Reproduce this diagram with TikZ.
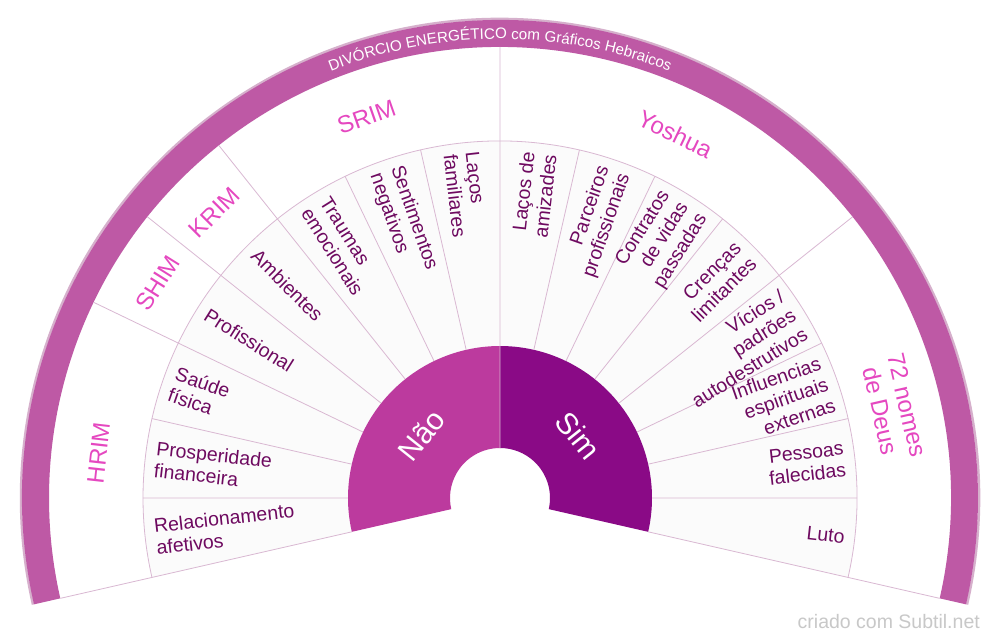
\documentclass[tikz,border=0pt]{standalone}
\usepackage{fontspec}
\setmainfont{Liberation Sans}
\usetikzlibrary{decorations.text}

\definecolor{naofill}{HTML}{BC3A9E}
\definecolor{simfill}{HTML}{8A0A86}
\definecolor{bandfill}{HTML}{BE59A5}
\definecolor{bandrim}{HTML}{D6B0CC}
\definecolor{divline}{HTML}{D9B8D2}
\definecolor{cattext}{HTML}{E548C0}
\definecolor{segtext}{HTML}{6E0A60}
\definecolor{segfill}{HTML}{FBFBFB}
\definecolor{marktext}{HTML}{C8C8C8}

\begin{document}
\begin{tikzpicture}[
        x=1pt, y=1pt,
        segleft/.style={anchor=west, align=left, text=segtext, inner sep=2pt, font=\fontsize{19.5}{22}\selectfont},
        segright/.style={anchor=east, align=right, text=segtext, inner sep=2pt, font=\fontsize{19.5}{22}\selectfont},
        catlabel/.style={align=center, text=cattext, font=\fontsize{24}{27}\selectfont},
        answer/.style={text=white, font=\fontsize{30}{30}\selectfont},
        divider/.style={draw=divline, line width=0.8pt}
    ]
        % Page
        \path[fill=white, use as bounding box] (-500,-145) rectangle (500,498);

        % Outer band
        \draw[bandrim, line width=2.5pt] (-12.857:479) arc[start angle=-12.857, end angle=192.857, radius=479];
        \fill[bandfill] (-12.857:451) arc[start angle=-12.857, end angle=192.857, radius=451]
            -- (192.857:478) arc[start angle=192.857, end angle=-12.857, radius=478] -- cycle;
        \path[decorate, decoration={text along path, text align=center,
            text={|\fontsize{15.2}{16}\selectfont\color{white}|DIVÓRCIO ENERGÉTICO com Gráficos Hebraicos}}]
            (114:459) arc[start angle=114, end angle=66, radius=459];

        % Rings
        \fill[segfill] (-12.857:152) arc[start angle=-12.857, end angle=192.857, radius=152]
            -- (192.857:357) arc[start angle=192.857, end angle=-12.857, radius=357] -- cycle;
        \fill[naofill] (90:50) arc[start angle=90, end angle=192.857, radius=50]
            -- (192.857:152) arc[start angle=192.857, end angle=90, radius=152] -- cycle;
        \fill[simfill] (-12.857:50) arc[start angle=-12.857, end angle=90, radius=50]
            -- (90:152) arc[start angle=90, end angle=-12.857, radius=152] -- cycle;

        % Dividers
        \draw[divider] (-12.857:357) arc[start angle=-12.857, end angle=192.857, radius=357];
        \draw[divider] (192.857:152) -- (192.857:451) (154.286:152) -- (154.286:451)
            (141.429:152) -- (141.429:451) (128.571:152) -- (128.571:451)
            (90:50) -- (90:451) (38.571:152) -- (38.571:451) (-12.857:152) -- (-12.857:451);
        \draw[divider] (180:152) -- (180:357) (167.143:152) -- (167.143:357)
            (115.714:152) -- (115.714:357) (102.857:152) -- (102.857:357)
            (77.143:152) -- (77.143:357) (64.286:152) -- (64.286:357)
            (51.429:152) -- (51.429:357) (25.714:152) -- (25.714:357)
            (12.857:152) -- (12.857:357) (0:152) -- (0:357);

        % Nao / Sim
        \node[answer, rotate=51.43] (nao) at (141.43:100) {Não};
        \node[answer, rotate=-51.43] (sim) at (38.57:100) {Sim};

        % Left segments
        \node[segleft, rotate=6.43] (relac) at (186.43:349) {Relacionamento\\afetivos};
        \node[segleft, rotate=-6.43] (prosp) at (173.57:349) {Prosperidade\\financeira};
        \node[segleft, rotate=-19.29] (saude) at (160.71:349) {Saúde\\física};
        \node[segleft, rotate=-32.14] (profis) at (147.86:349) {Profissional};
        \node[segleft, rotate=-45] (ambient) at (135:349) {Ambientes};
        \node[segleft, rotate=-57.86] (traumas) at (122.14:349) {Traumas\\emocionais};
        \node[segleft, rotate=-70.71] (sentim) at (109.29:349) {Sentimentos\\negativos};
        \node[segleft, rotate=-83.57] (lacosfam) at (96.43:349) {Laços\\familiares};

        % Right segments
        \node[segright, rotate=83.57] (lacosamig) at (83.57:349) {Laços de\\amizades};
        \node[segright, rotate=70.71] (parceiros) at (70.71:349) {Parceiros\\profissionais};
        \node[segright, rotate=57.86] (contratos) at (57.86:349) {Contratos\\de vidas\\passadas};
        \node[segright, rotate=45] (crencas) at (45:349) {Crenças\\limitantes};
        \node[segright, rotate=32.14] (vicios) at (32.14:349) {Vícios /\\padrões\\autodestrutivos};
        \node[segright, rotate=19.29] (influenc) at (19.29:349) {Influencias\\espirituais\\externas};
        \node[segright, rotate=6.43] (pessoas) at (6.43:349) {Pessoas\\falecidas};
        \node[segright, rotate=-6.43] (luto) at (-6.43:349) {Luto};

        % Categories
        \node[catlabel, rotate=83.57] (hrim) at (173.57:404) {HRIM};
        \node[catlabel, rotate=57.86] (shim) at (147.86:404) {SHIM};
        \node[catlabel, rotate=45] (krim) at (135:404) {KRIM};
        \node[catlabel, rotate=19.29] (srim) at (109.29:404) {SRIM};
        \node[catlabel, rotate=-25.71] (yoshua) at (64.29:404) {Yoshua};
        \node[catlabel, rotate=-77.14] (nomes) at (12.86:404) {72 nomes\\de Deus};

        % Credit
        \node[anchor=base east, inner sep=0pt, text=marktext, font=\fontsize{19.5}{20}\selectfont] (credit) at (480,-130) {criado com Subtil.net};
    \end{tikzpicture}
\end{document}
